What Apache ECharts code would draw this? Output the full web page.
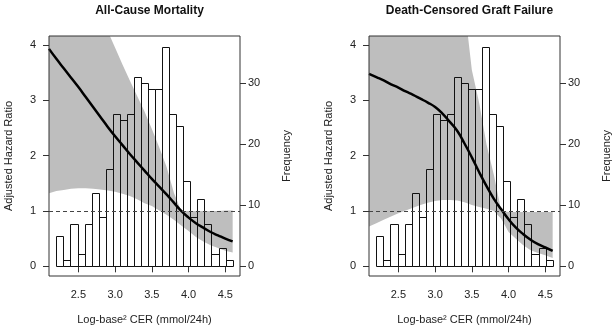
<!DOCTYPE html>
<html>
<head>
<meta charset="utf-8">
<script src="https://cdn.jsdelivr.net/npm/echarts@6/dist/echarts.min.js"></script>
<style>
  html, body { margin: 0; padding: 0; background: #fff; }
  #chart { width: 612px; height: 325px; }
</style>
</head>
<body>
<div id="chart"></div>
<script>
// histogram of CER (same cohort in both panels)
const histStart = 2.2
const histEnd = 4.6
const histCounts = [5, 1, 7, 2, 7, 12, 8, 16, 25, 24, 25, 31, 30, 29, 29, 36, 25, 23, 14, 8, 11, 7, 2, 3, 1]

// spline x grid
const cerGrid = [2.1, 2.2, 2.3, 2.4, 2.5, 2.6, 2.7, 2.8, 2.9, 3.0, 3.1, 3.2, 3.3,
  3.4, 3.5, 3.6, 3.7, 3.8, 3.9, 4.0, 4.1, 4.2, 4.3, 4.4, 4.5, 4.6]

// all-cause mortality
const mortHR = [3.93, 3.75, 3.58, 3.41, 3.24, 3.06, 2.88, 2.70, 2.52, 2.35, 2.19, 2.03, 1.88,
  1.73, 1.58, 1.44, 1.30, 1.15, 1.00, 0.88, 0.78, 0.70, 0.62, 0.56, 0.50, 0.45]
const mortUpper = [6.6, 6.3, 6.0, 5.7, 5.4, 5.1, 4.8, 4.5, 4.25, 3.95, 3.65, 3.36, 3.08,
  2.80, 2.48, 2.15, 1.80, 1.33, 1.0, 1.0, 1.0, 1.0, 1.0, 1.0, 1.01, 1.01]
const mortLower = [1.32, 1.36, 1.38, 1.40, 1.41, 1.41, 1.40, 1.39, 1.37, 1.35, 1.31, 1.27, 1.21,
  1.14, 1.09, 1.01, 0.93, 0.84, 0.74, 0.64, 0.53, 0.45, 0.38, 0.33, 0.28, 0.25]

// death-censored graft failure
const graftHR = [3.48, 3.42, 3.36, 3.29, 3.23, 3.16, 3.10, 3.03, 2.96, 2.88, 2.76, 2.61, 2.45,
  2.22, 1.97, 1.70, 1.45, 1.22, 1.03, 0.85, 0.70, 0.58, 0.48, 0.40, 0.34, 0.28]
const graftUpper = [8, 8, 8, 8, 8, 8, 8, 8, 8, 8, 7, 6, 5.2,
  4.7, 3.55, 2.95, 2.2, 1.65, 1.0, 0.98, 0.98, 0.98, 0.98, 0.98, 0.98, 0.98]
const graftLower = [0.72, 0.78, 0.84, 0.90, 0.96, 1.01, 1.06, 1.11, 1.15, 1.18, 1.20, 1.20, 1.19,
  1.16, 1.11, 1.07, 1.04, 1.00, 0.86, 0.62, 0.50, 0.38, 0.29, 0.24, 0.20, 0.15]

const xTicks = [2.5, 3.0, 3.5, 4.0, 4.5]
const hrTicks = [0, 1, 2, 3, 4]
const freqTicks = [0, 10, 20, 30]

const panels = [
  { title: 'All-Cause Mortality', hr: mortHR, upper: mortUpper, lower: mortLower },
  { title: 'Death-Censored Graft Failure', hr: graftHR, upper: graftUpper, lower: graftLower }
]

const font = 'Liberation Sans, Arial, sans-serif'
const binW = (histEnd - histStart) / histCounts.length
const histData = histCounts.map((c, i) => [histStart + i * binW, histStart + (i + 1) * binW, c])

const chart = echarts.init(document.getElementById('chart'))

const gridLefts = [49, 369]
const grids = []
const xAxes = []
const yAxes = []
const series = []
const titles = []

panels.forEach((p, i) => {
  grids.push({ left: gridLefts[i], top: 36, width: 191, height: 240, show: true,
    outerBoundsMode: 'none', borderColor: '#333', borderWidth: 1, z: 5 })
  titles.push({ text: p.title, left: gridLefts[i] + 95.5, top: 0, textAlign: 'center',
    textStyle: { fontFamily: font, fontSize: 12, fontWeight: 'bold', color: '#111' } })
  xAxes.push({
    type: 'value', gridIndex: i, min: 2.1, max: 4.7,
    axisLine: { show: false }, splitLine: { show: false },
    axisTick: { show: true, length: 6, customValues: xTicks, lineStyle: { color: '#333' } },
    axisLabel: { customValues: xTicks, formatter: v => v.toFixed(1), margin: 13,
      fontFamily: font, fontSize: 11, color: '#222' },
    name: 'Log-base² CER (mmol/24h)', nameLocation: 'middle', nameGap: 38,
    nameTextStyle: { fontFamily: font, fontSize: 11, color: '#222' }
  })
  // hazard ratio axis
  yAxes.push({
    type: 'value', gridIndex: i, position: 'left', min: -0.175, max: 4.163,
    axisLine: { show: false }, splitLine: { show: false },
    axisTick: { show: true, length: 6, customValues: hrTicks, lineStyle: { color: '#333' } },
    axisLabel: { customValues: hrTicks, margin: 13, fontFamily: font, fontSize: 11, color: '#222' },
    name: 'Adjusted Hazard Ratio', nameLocation: 'middle', nameGap: 35,
    nameTextStyle: { fontFamily: font, fontSize: 11, color: '#222' }
  })
  // frequency axis
  yAxes.push({
    type: 'value', gridIndex: i, position: 'right', min: -1.59, max: 37.75,
    axisLine: { show: false }, splitLine: { show: false },
    axisTick: { show: true, length: 6, customValues: freqTicks, lineStyle: { color: '#333' } },
    axisLabel: { customValues: freqTicks, margin: 8, fontFamily: font, fontSize: 11, color: '#222' },
    name: 'Frequency', nameLocation: 'middle', nameGap: 41,
    nameTextStyle: { fontFamily: font, fontSize: 11, color: '#222' }
  })

  const hrIdx = i * 2
  const freqIdx = i * 2 + 1

  // confidence band as one polygon, clipped to the plot box
  series.push({
    type: 'custom', xAxisIndex: i, yAxisIndex: hrIdx, clip: true,
    data: cerGrid.map((x, k) => [x, p.lower[k], p.upper[k]]),
    encode: { x: 0, y: [1, 2] }, z: 1, silent: true,
    renderItem: (params, api) => {
      if (params.dataIndex !== 0) return null
      const top = cerGrid.map((x, k) => api.coord([x, p.upper[k]]))
      const bottom = cerGrid.map((x, k) => api.coord([x, p.lower[k]])).reverse()
      const cs = params.coordSys
      return {
        type: 'polygon',
        shape: { points: top.concat(bottom) },
        style: { fill: '#bebebe', stroke: 'none' },
        clipPath: { type: 'rect', shape: { x: cs.x, y: cs.y, width: cs.width, height: cs.height } }
      }
    }
  })
  series.push({
    type: 'custom', xAxisIndex: i, yAxisIndex: freqIdx,
    data: histData, encode: { x: [0, 1], y: 2 }, z: 2,
    renderItem: (params, api) => {
      const p0 = api.coord([api.value(0), api.value(2)])
      const p1 = api.coord([api.value(1), 0])
      const x0 = Math.round(p0[0]) + 0.5
      const x1 = Math.round(p1[0]) + 0.5
      const y0 = Math.round(p0[1]) + 0.5
      const y1 = Math.round(p1[1]) + 0.5
      return {
        type: 'rect',
        shape: { x: x0, y: y0, width: x1 - x0, height: y1 - y0 },
        style: { fill: 'none', stroke: '#111', lineWidth: 1 }
      }
    }
  })
  series.push({
    type: 'line', xAxisIndex: i, yAxisIndex: hrIdx,
    data: cerGrid.map((x, k) => [x, p.hr[k]]),
    smooth: true, symbol: 'none', z: 3,
    lineStyle: { color: '#000', width: 2.5 },
    markLine: {
      silent: true, symbol: 'none', label: { show: false },
      lineStyle: { color: '#444', type: [4, 3], width: 1 },
      data: [{ yAxis: 1 }]
    }
  })
})

chart.setOption({
  animation: false,
  backgroundColor: '#fff',
  title: titles,
  grid: grids,
  xAxis: xAxes,
  yAxis: yAxes,
  series: series
})
</script>
</body>
</html>
